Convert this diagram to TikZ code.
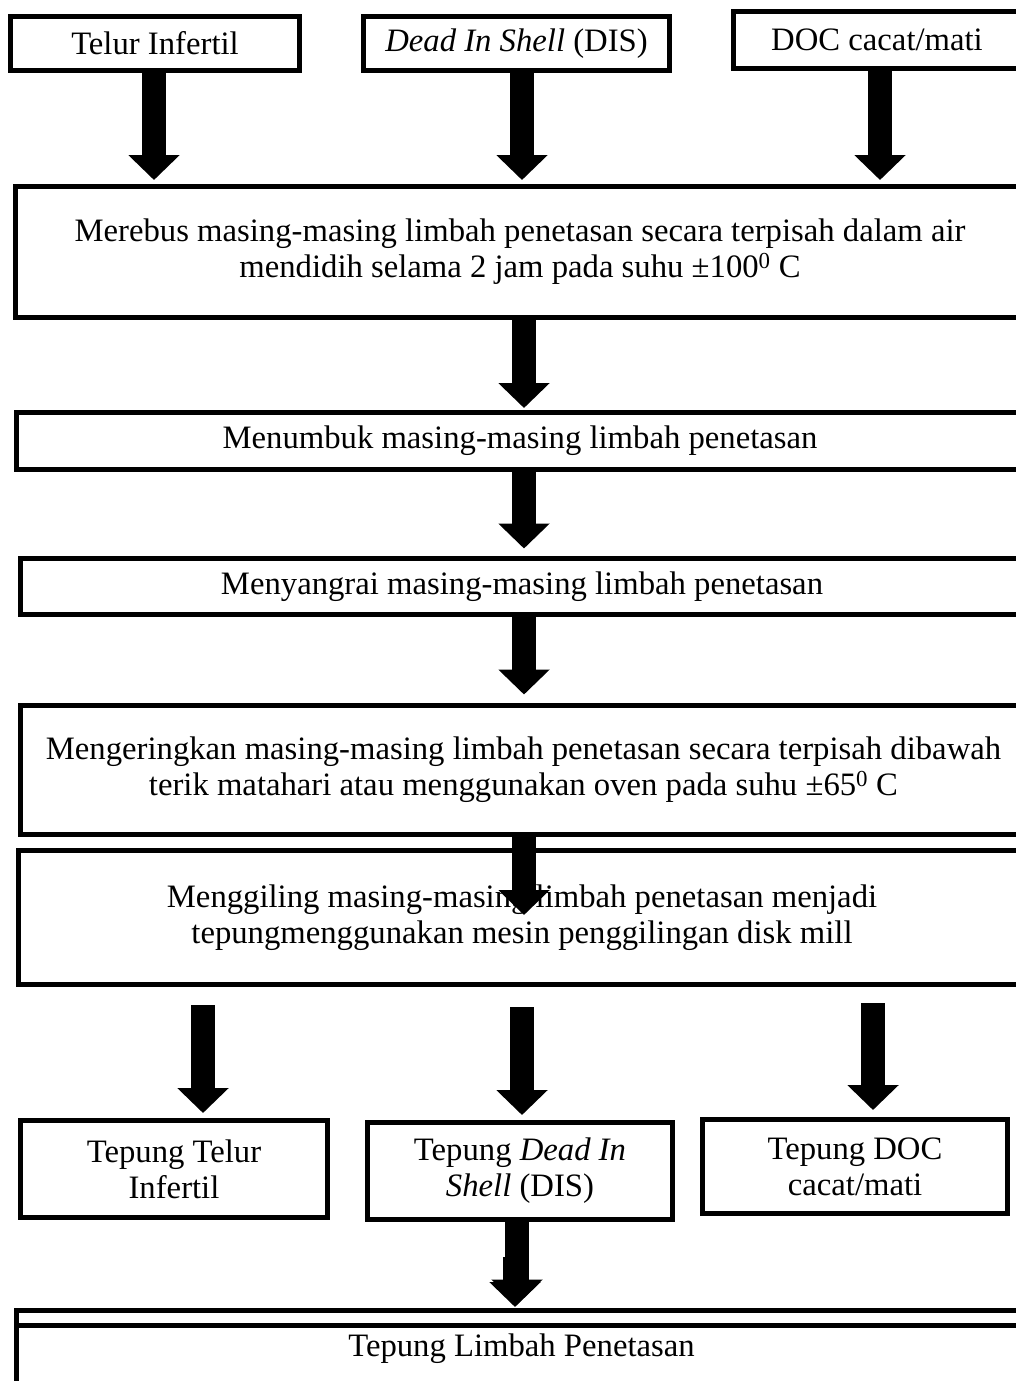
\documentclass[tikz,border=0pt]{standalone}
\usepackage{fontspec}
\setmainfont{Liberation Serif}
\usetikzlibrary{arrows.meta,calc}
\begin{document}
\begin{tikzpicture}[x=1pt,y=-1pt,
  box/.style={draw, line width=5pt, rectangle, outer sep=0pt, inner sep=0pt, align=center,
    font=\fontsize{32.7}{36}\selectfont},
  fat/.style={line width=24pt, -{Triangle[length=25pt,width=50pt]}}]
\useasboundingbox (0,0) rectangle (1016,1381);
\fill[white] (0,0) rectangle (1016,1381);
\clip (0,0) rectangle (1016,1381);
% named x positions of the arrows
\coordinate (xa) at (154,0);
\coordinate (xb) at (522,0);
\coordinate (xc) at (880,0);
\coordinate (xm) at (524,0);
\coordinate (xd) at (203,0);
\coordinate (xe) at (522,0);
\coordinate (xf) at (873,0);
\coordinate (xg) at (517,0);
\coordinate (xh) at (515,0);
% top row
\node[box, minimum width=289pt, minimum height=54pt] (b1) at (155,43.5) {Telur Infertil};
\node[box, minimum width=306pt, minimum height=54pt] (b2) at (516.5,43.5) {\textit{Dead In Shell} (DIS)};
\node[box, minimum width=287pt, minimum height=57pt] (b3) at (877,40) {DOC cacat/mati};
% process steps
\node[box, minimum width=1009pt, minimum height=131pt] (m1) at (520,252)
  {Merebus masing-masing limbah penetasan secara terpisah dalam air\\
   mendidih selama 2 jam pada suhu ±100\textsuperscript{0} C};
\node[box, minimum width=1007pt, minimum height=57pt] (m2) at (520,441)
  {Menumbuk masing-masing limbah penetasan};
\node[box, minimum width=1003pt, minimum height=56pt] (m3) at (522,586.5)
  {Menyangrai masing-masing limbah penetasan};
\node[box, minimum width=1006pt, minimum height=129pt] (m4) at (523.5,770)
  {Mengeringkan masing-masing limbah penetasan secara terpisah dibawah\\
   terik matahari atau menggunakan oven pada suhu ±65\textsuperscript{0} C};
\node[box, minimum width=1007pt, minimum height=134pt] (m5) at (522,917.5)
  {Menggiling masing-masing limbah penetasan menjadi\\
   tepungmenggunakan mesin penggilingan disk mill};
% product row
\node[box, minimum width=307pt, minimum height=97pt] (t1) at (174,1169) {Tepung Telur\\ Infertil};
\node[box, minimum width=305pt, minimum height=97pt] (t2) at (520,1171) {Tepung \textit{Dead In}\\ \textit{Shell} (DIS)};
\node[box, minimum width=305pt, minimum height=94pt] (t3) at (855,1166.5) {Tepung DOC\\ cacat/mati};
% final box (two overlapping frames)
\node[box, anchor=north west, minimum width=1010pt, minimum height=150pt] (l0) at (16.5,1310.5) {};
\node[box, anchor=north west, minimum width=1010pt,
  text height=31pt, text depth=100pt] (l1) at (16.5,1325.5) {Tepung Limbah Penetasan};
% arrows
\draw[fat, shorten >=6.5pt] (b1.south -| xa) -- (m1.north -| xa);
\draw[fat, shorten >=6.5pt] (b2.south -| xb) -- (m1.north -| xb);
\draw[fat, shorten >=6.5pt] (b3.south -| xc) -- (m1.north -| xc);
\draw[fat, shorten >=4.5pt] (m1.south -| xm) -- (m2.north -| xm);
\draw[fat, shorten >=10pt] (m2.south -| xm) -- (m3.north -| xm);
\draw[fat, shorten >=11pt] (m3.south -| xm) -- (m4.north -| xm);
\draw[fat] (m4.south -| xm) -- ($(m5.north -| xm)+(0,64.5)$);
\draw[fat, shorten >=7.5pt] ($(m5.south -| xd)+(0,20.5)$) -- (t1.north -| xd);
\draw[fat, shorten >=7.5pt] ($(m5.south -| xe)+(0,22.5)$) -- (t2.north -| xe);
\draw[fat, shorten >=9.5pt] ($(m5.south -| xf)+(0,18.5)$) -- (t3.north -| xf);
\draw[fat, shorten >=6pt] (t2.south -| xg) -- (l0.north -| xg);
\draw[fat, shorten >=3.5pt] ($(t2.south -| xh)+(0,37)$) -- (l0.north -| xh);
\end{tikzpicture}
\end{document}
